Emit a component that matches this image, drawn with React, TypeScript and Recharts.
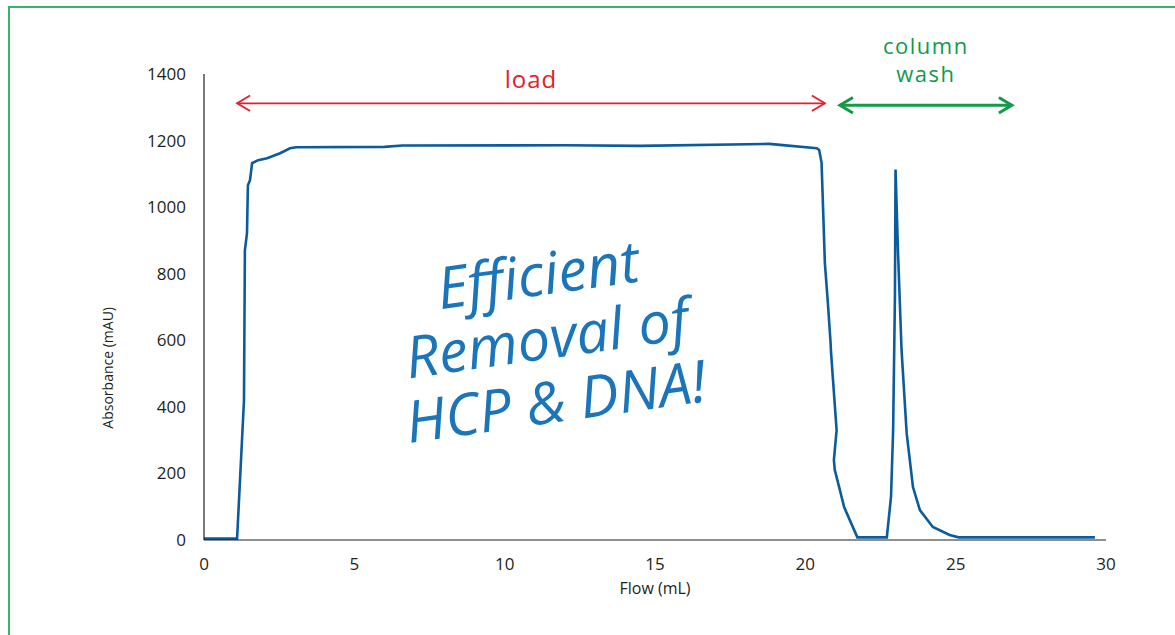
import React from 'react';
import { LineChart, Line, XAxis, YAxis, ReferenceLine, ReferenceDot } from 'recharts';

// chromatogram trace
const flowMl = [
  0, 1.1, 1.33, 1.36, 1.43, 1.46, 1.53, 1.6, 1.8, 2.1, 2.53, 2.86, 3.06, 6.0, 6.6, 12, 14.5, 18.8,
  19.16, 20.38, 20.46, 20.51, 20.54, 20.65, 20.75, 20.84, 20.85, 20.92, 21.04, 20.95, 20.98, 21.15,
  21.29, 21.73, 22.71, 22.85, 22.92, 22.98, 23.0, 23.08, 23.2, 23.37, 23.58, 23.81, 24.24, 24.8, 25.1,
  29.63,
];
const absorbance = [
  4, 4, 420, 870, 922, 1066, 1081, 1132, 1141, 1147, 1162, 1177, 1180, 1181, 1185, 1186, 1184, 1190,
  1187, 1177, 1172, 1148, 1133, 832, 712, 592, 571, 481, 330, 240, 210, 150,
  99, 8, 8, 130, 330, 731, 1113, 871, 571, 321, 159, 90, 39, 15, 8,
  8,
];

const xTicks = [0, 5, 10, 15, 20, 25, 30];
const yTicks = [0, 200, 400, 600, 800, 1000, 1200, 1400];

// phase annotations: start, end, arrow level
const loadPhase = { label: ['load'], from: 1.1, to: 20.65, level: 1312, color: '#e3202a' };
const washPhase = { label: ['column', 'wash'], from: 21.15, to: 26.87, level: 1306, color: '#129a48' };

const headline = ['Efficient', 'Removal of', 'HCP & DNA!'];

const data = flowMl.map((x, i) => ({ x, y: absorbance[i] }));

const font = '"Open Sans", "Noto Sans", sans-serif';
const ink = '#231f20';

function PhaseArrow({ x1, y1, x2, y2, color, label, width, size, spacing, gap }: any) {
  const h = 13;
  const cx = (x1 + x2) / 2;
  const top = y1 - gap - (label.length - 1) * 28;
  return (
    <g>
      <line x1={x1} y1={y1} x2={x2} y2={y2} stroke={color} strokeWidth={width} />
      <polyline
        points={`${x1 + h},${y1 - h * 0.6} ${x1},${y1} ${x1 + h},${y1 + h * 0.6}`}
        fill="none"
        stroke={color}
        strokeWidth={width}
      />
      <polyline
        points={`${x2 - h},${y2 - h * 0.6} ${x2},${y2} ${x2 - h},${y2 + h * 0.6}`}
        fill="none"
        stroke={color}
        strokeWidth={width}
      />
      {label.map((t: string, i: number) => (
        <text
          key={t}
          x={cx}
          y={top + i * 28}
          textAnchor="middle"
          fill={color}
          fontFamily={font}
          fontSize={size}
          letterSpacing={spacing}
        >
          {t}
        </text>
      ))}
    </g>
  );
}

function Headline({ cx, cy }: any) {
  return (
    <g transform={`rotate(-8 ${cx} ${cy})`}>
      {headline.map((t, i) => (
        <text
          key={t}
          x={cx}
          y={cy + (i - 1) * 64}
          textAnchor="middle"
          fill="#1a75bb"
          fontFamily={font}
          fontStyle="italic"
          fontSize={58}
        >
          {t}
        </text>
      ))}
    </g>
  );
}

export default function App() {
  return (
    <div
      style={{
        position: 'absolute',
        left: 0,
        top: 0,
        width: 1175,
        height: 635,
        overflow: 'hidden',
        background: '#fff',
      }}
    >
      <div
        style={{
          position: 'absolute',
          left: 8,
          top: 6,
          width: 1300,
          height: 800,
          border: '2px solid #33b56b',
        }}
      />
      <div style={{ position: 'absolute', left: 0, top: 0 }}>
        <LineChart width={1175} height={635} data={data} margin={{ top: 74, right: 69, bottom: 0, left: 144 }}>
          <XAxis
            dataKey="x"
            type="number"
            domain={[0, 30]}
            ticks={xTicks}
            tickLine={false}
            tickMargin={12}
            axisLine={{ stroke: ink, strokeWidth: 1.2 }}
            tick={{ fill: ink, fontSize: 17, fontFamily: font }}
            height={95}
            label={{ value: 'Flow (mL)', position: 'insideTop', offset: 43, fill: ink, fontSize: 16, fontFamily: font }}
          />
          <YAxis
            type="number"
            domain={[0, 1400]}
            ticks={yTicks}
            tickLine={false}
            tickMargin={12}
            width={60}
            axisLine={{ stroke: ink, strokeWidth: 1.2 }}
            tick={{ fill: ink, fontSize: 17, fontFamily: font }}
            label={{
              value: 'Absorbance (mAU)',
              angle: -90,
              position: 'left',
              offset: 36,
              fill: ink,
              fontSize: 14,
              fontFamily: font,
            }}
          />
          <Line
            dataKey="y"
            type="linear"
            stroke="#0b5c9c"
            strokeWidth={2.6}
            dot={false}
            isAnimationActive={false}
          />
          <ReferenceLine
            segment={[
              { x: loadPhase.from, y: loadPhase.level },
              { x: loadPhase.to, y: loadPhase.level },
            ]}
            ifOverflow="visible"
            shape={(p: any) => (
              <PhaseArrow {...p} color={loadPhase.color} label={loadPhase.label} width={1.8} size={24} spacing={1} gap={15} />
            )}
          />
          <ReferenceLine
            segment={[
              { x: washPhase.from, y: washPhase.level },
              { x: washPhase.to, y: washPhase.level },
            ]}
            ifOverflow="visible"
            shape={(p: any) => (
              <PhaseArrow {...p} color={washPhase.color} label={washPhase.label} width={3} size={22} spacing={1.5} gap={23} />
            )}
          />
          <ReferenceDot x={11.5} y={545} ifOverflow="visible" shape={(p: any) => <Headline {...p} />} />
        </LineChart>
      </div>
    </div>
  );
}
